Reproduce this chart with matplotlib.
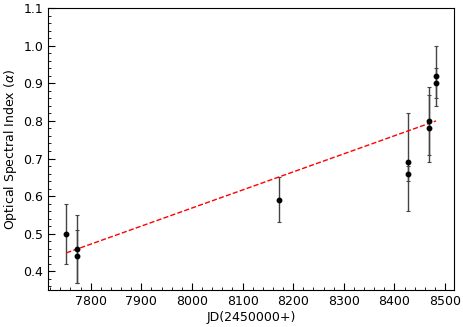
import matplotlib
matplotlib.use("Agg")
import matplotlib.pyplot as plt
from matplotlib.ticker import MultipleLocator
import numpy as np

jd = [7752, 7772, 7772, 8171, 8426, 8426, 8468, 8468, 8482, 8482]
alpha = [0.50, 0.46, 0.44, 0.59, 0.69, 0.66, 0.80, 0.78, 0.92, 0.90]
alpha_err = [0.08, 0.09, 0.07, 0.06, 0.13, 0.02, 0.09, 0.09, 0.08, 0.04]

fit_x = [7752, 8482]
fit_y = [0.449, 0.800]

fig = plt.figure(figsize=(4.63, 3.27), dpi=100)
ax = fig.add_axes([0.104, 0.113, 0.876, 0.862])

ax.errorbar(jd, alpha, yerr=alpha_err, fmt='o', color='black', ecolor='#444444',
            elinewidth=1.0, capsize=1.2, capthick=0.8, markersize=3.2)
ax.plot(fit_x, fit_y, '--', color='red', lw=1.0)

ax.set_xlim(7716, 8517)
ax.set_ylim(0.35, 1.1)
ax.xaxis.set_major_locator(MultipleLocator(100))
ax.xaxis.set_minor_locator(MultipleLocator(20))
ax.yaxis.set_major_locator(MultipleLocator(0.1))
ax.yaxis.set_minor_locator(MultipleLocator(0.02))
ax.tick_params(which='both', direction='in', labelsize=9)
ax.tick_params(which='major', length=5)
ax.tick_params(which='minor', length=2.5)
ax.set_xlabel('JD(2450000+)', fontsize=9, labelpad=2)
ax.set_ylabel(r'Optical Spectral Index ($\alpha$)', fontsize=9, labelpad=3)

fig.savefig('out.png', dpi=100)
